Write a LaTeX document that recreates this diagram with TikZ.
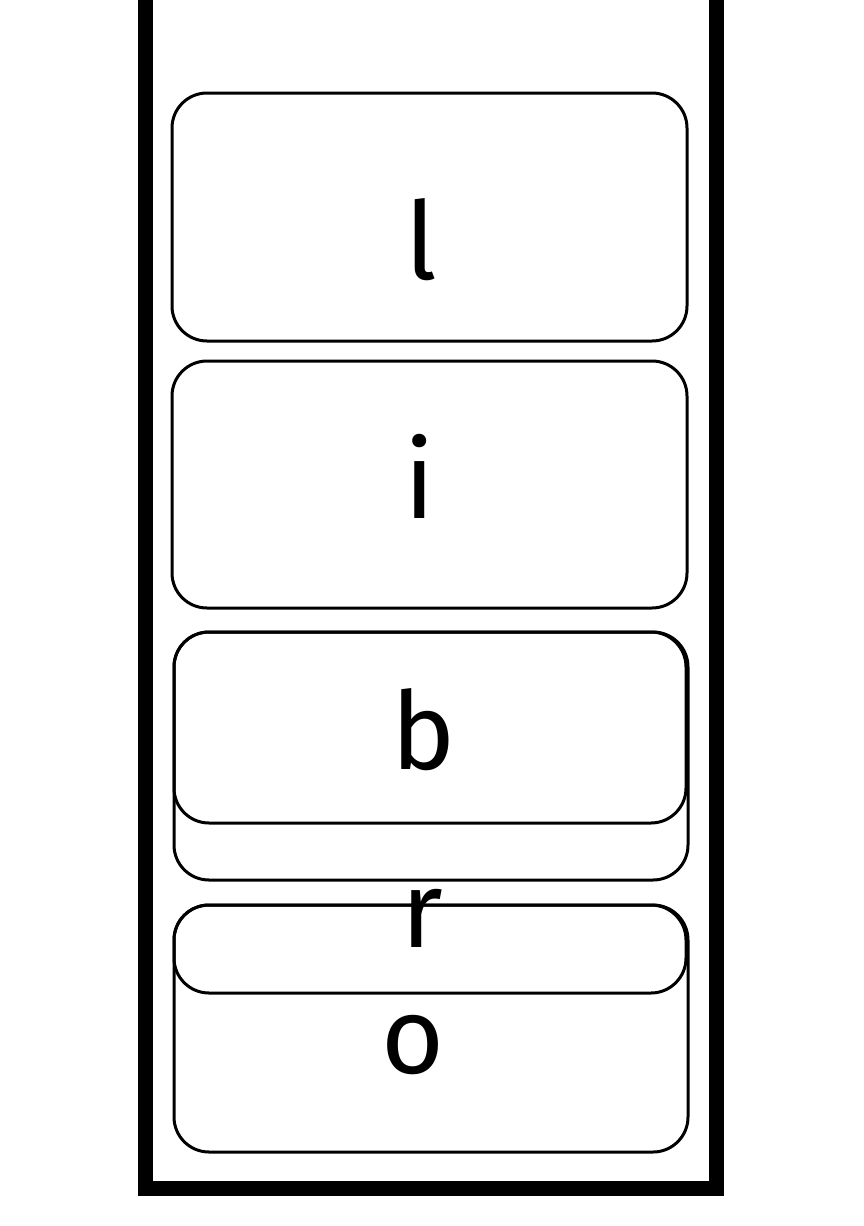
\documentclass[tikz,border=0pt]{standalone}
\usepackage{fontspec}
\setmainfont{Fira Sans}
\begin{document}
\begin{tikzpicture}[x=1pt,y=-1pt,
  card/.style={draw=black, line width=3pt, rounded corners=35pt, fill=none, inner sep=0pt},
  letter/.style={anchor=base, inner sep=0pt, font=\fontsize{108}{120}\selectfont}]
\useasboundingbox (0,0) rectangle (864,1226);
\fill[white] (0,0) rectangle (864,1226);
% outer frame (open at top)
\draw[line width=15pt, line join=miter] (145.5,-20) -- (145.5,1188) -- (716,1188) -- (716,-20);
% cards
\node[card, minimum width=515pt, minimum height=248pt] (c1) at (429.5,217) {};
\node[card, minimum width=515pt, minimum height=247pt] (c2) at (429.5,484.5) {};
\node[card, minimum width=514pt, minimum height=248pt] (c3b) at (431,756) {};
\node[card, minimum width=512pt, minimum height=191pt] (c3a) at (430,727.5) {};
\node[card, minimum width=514pt, minimum height=247pt] (c4b) at (431,1028.5) {};
\node[card, minimum width=512pt, minimum height=88pt] (c4a) at (430,949) {};
% letters
\node[letter] (tl) at (421,279) {l};
\node[letter] (ti) at (420,518) {i};
\node[letter] (tb) at (424,769) {b};
\node[letter] (tr) at (422,947) {r};
\node[letter] (to) at (413,1073) {o};
\end{tikzpicture}
\end{document}
